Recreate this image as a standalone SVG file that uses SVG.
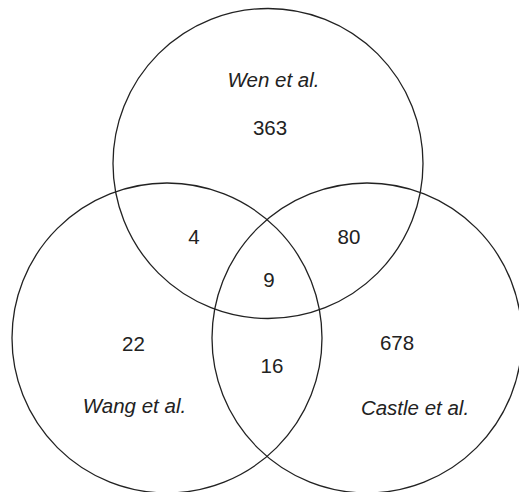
<svg xmlns="http://www.w3.org/2000/svg" width="519" height="492" viewBox="0 0 519 492">
<style>
.c{fill:none;stroke:#222;stroke-width:1.3}
.t{font-family:"Liberation Sans",Arial,sans-serif;font-size:20.5px;fill:#222;text-anchor:middle}
.i{font-style:italic}
</style>
<rect width="519" height="492" fill="#fff"/>
<g id="connectors"></g>
<g id="wen">
<circle class="c" cx="268" cy="163.5" r="155"/>
<text class="t i" x="273.5" y="87">Wen et al.</text>
<text class="t" x="270" y="135">363</text>
</g>
<g id="wang">
<circle class="c" cx="167" cy="338" r="155"/>
<text class="t i" x="134.5" y="413">Wang et al.</text>
<text class="t" x="133.5" y="351">22</text>
</g>
<g id="castle">
<circle class="c" cx="367" cy="338" r="155"/>
<text class="t i" x="415" y="415">Castle et al.</text>
<text class="t" x="397" y="350">678</text>
</g>
<g id="overlaps">
<text class="t" x="194" y="244">4</text>
<text class="t" x="349" y="244">80</text>
<text class="t" x="269" y="287">9</text>
<text class="t" x="272" y="373">16</text>
</g>
</svg>
